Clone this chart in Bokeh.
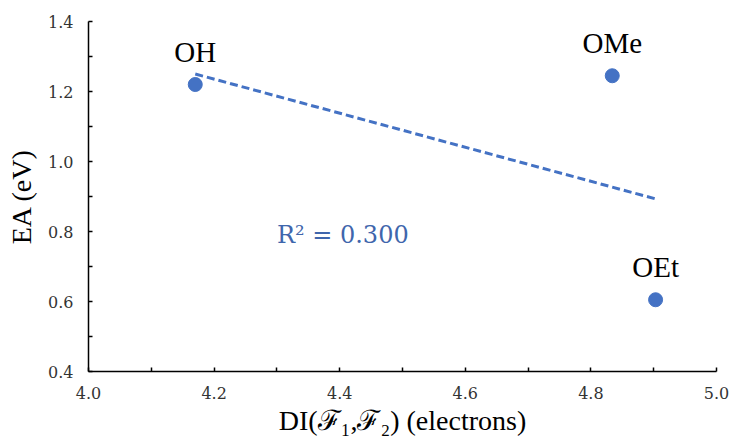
import numpy as np
from bokeh.plotting import figure
from bokeh.models import (ColumnDataSource, Range1d, FixedTicker, Label,
                          LabelSet, PrintfTickFormatter)
from bokeh.embed import file_html
from bokeh.resources import INLINE

# Electron affinity vs. delocalization index for the three substituents
names = ["OH", "OMe", "OEt"]
di_values = [4.170, 4.834, 4.903]
ea_values = [1.220, 1.245, 0.605]
r2_text = "R\u00b2 = 0.300"

x_ticks = [4.0, 4.2, 4.4, 4.6, 4.8, 5.0]
x_minor = [4.1, 4.3, 4.5, 4.7, 4.9]
y_ticks = [0.4, 0.6, 0.8, 1.0, 1.2, 1.4]
y_minor = [0.5, 0.7, 0.9, 1.1, 1.3]

BLUE = "#4472C4"
SERIF = "Liberation Serif"
TICK_FONT = "DejaVu Serif"

src = ColumnDataSource(data=dict(x=di_values, y=ea_values, name=names))

p = figure(
    width=732, height=443,
    frame_width=628, frame_height=350,
    min_border_left=88, min_border_right=16,
    min_border_top=21, min_border_bottom=72,
    x_range=Range1d(4.0, 5.0), y_range=Range1d(0.4, 1.4),
    output_backend="svg", toolbar_location=None,
)
p.outline_line_color = None
p.xgrid.visible = False
p.ygrid.visible = False
p.background_fill_color = "white"
p.border_fill_color = "white"

# linear least-squares trendline across the data span
slope, intercept = np.polyfit(di_values, ea_values, 1)
fit_x = [min(di_values), max(di_values)]
fit_y = [slope * v + intercept for v in fit_x]
p.line(fit_x, fit_y, line_color=BLUE, line_width=3, line_dash="8 4")

p.scatter("x", "y", source=src, size=14, fill_color=BLUE, line_color=BLUE)

labels = LabelSet(
    x="x", y="y", text="name", source=src,
    text_align="center", text_baseline="alphabetic", y_offset=23,
    text_font=SERIF, text_font_size="29px", text_color="black",
)
p.add_layout(labels)

p.add_layout(Label(
    x=4.30, y=0.79, text=r2_text, text_font=TICK_FONT, text_font_size="24px",
    text_color="#3F66AC", text_baseline="alphabetic",
))

p.xaxis.ticker = FixedTicker(ticks=x_ticks, minor_ticks=x_minor)
p.yaxis.ticker = FixedTicker(ticks=y_ticks, minor_ticks=y_minor)
p.xaxis.formatter = PrintfTickFormatter(format="%.1f")
p.yaxis.formatter = PrintfTickFormatter(format="%.1f")

for ax in (p.xaxis, p.yaxis):
    ax.axis_line_color = "black"
    ax.axis_line_width = 1.5
    ax.major_tick_line_color = "black"
    ax.minor_tick_line_color = "black"
    ax.major_tick_line_width = 1.5
    ax.minor_tick_line_width = 1.5
    ax.major_tick_in = 4
    ax.major_tick_out = 0
    ax.minor_tick_in = 4
    ax.minor_tick_out = 0
    ax.major_label_text_font = TICK_FONT
    ax.major_label_text_font_size = "16px"
    ax.major_label_text_color = "#333333"
    ax.major_label_standoff = 15
    ax.axis_label_text_font = SERIF
    ax.axis_label_text_font_size = "28px"
    ax.axis_label_text_font_style = "normal"
    ax.axis_label_text_color = "black"

p.xaxis.axis_label = "DI(\u2131\u2081,\u2131\u2082) (electrons)"
p.yaxis.axis_label = "EA (eV)"
p.xaxis.axis_label_standoff = 3
p.yaxis.axis_label_standoff = 8

open("out.html", "w").write(file_html(p, INLINE))
